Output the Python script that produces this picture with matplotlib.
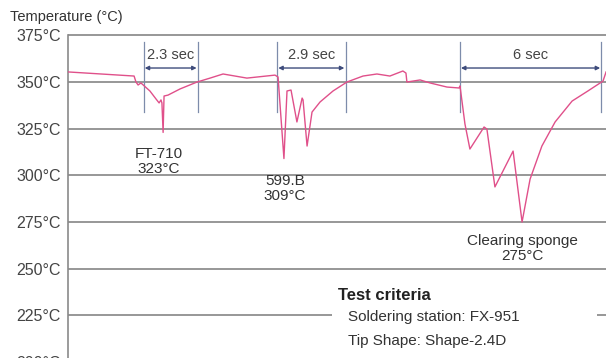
import numpy as np
import matplotlib.pyplot as plt
from matplotlib.patches import Rectangle

plt.rcParams['font.family'] = ['Liberation Sans', 'DejaVu Sans']

# Tip temperature trace: time [s], temperature [degC]
time_s = [0.00, 2.80, 2.88, 2.97, 3.09, 3.47, 3.73, 3.86, 3.94, 3.98, 4.03, 4.07,
          4.24, 4.75, 5.47, 6.02, 6.57, 7.58, 8.77, 8.90, 9.15, 9.28, 9.45, 9.70,
          9.92, 9.96, 10.13, 10.34, 10.68, 11.23, 11.82, 12.50, 13.09, 13.64,
          14.19, 14.32, 14.36, 14.92, 15.34, 16.06, 16.57, 16.61, 16.82, 17.03,
          17.63, 17.75, 18.09, 18.86, 19.24, 19.58, 20.08, 20.64, 21.36, 22.03,
          22.67, 22.80]
temp_c = [355.4, 353.2, 350.0, 348.4, 349.5, 345.2, 340.9, 338.8, 340.4, 338.8, 323.0, 342.5,
          343.0, 346.3, 350.0, 352.1, 354.3, 352.1, 353.7, 352.7, 309.0, 345.2, 345.7, 328.6,
          341.4, 340.4, 315.7, 333.9, 339.3, 345.2, 350.0, 353.2, 354.3, 353.2,
          355.9, 354.8, 350.0, 351.1, 349.5, 347.3, 346.8, 347.9, 327.5, 314.1,
          325.9, 324.8, 293.8, 313.0, 275.0, 298.0, 315.7, 328.6, 339.8, 345.2,
          350.5, 355.4]

# recovery intervals: start [s], length [s]
recover_start = [3.2, 8.86, 16.6]
recover_len = [2.3, 2.9, 6.0]
recover_labels = ["2.3 sec", "2.9 sec", "6 sec"]

# dip annotations
dip_names = ["FT-710", "599.B", "Clearing sponge"]
dip_temps = [323, 309, 275]
dip_label_t = [3.86, 9.2, 19.25]
dip_label_T = [315.2, 300.7, 268.6]

yticks = [375, 350, 325, 300, 275, 250, 225, 200]

fig = plt.figure(figsize=(6.06, 3.58), dpi=100)
ax = fig.add_axes([68 / 606, -0.0634, 23.0 * 23.6 / 606, 0.9751])
ax.set_xlim(0, 23.0)
ax.set_ylim(190, 377)

for s in ['top', 'right', 'bottom']:
    ax.spines[s].set_visible(False)
ax.spines['left'].set_color('#8a8a8a')
ax.spines['left'].set_linewidth(1.2)
ax.spines['left'].set_bounds(190, 375)

ax.set_xticks([])
ax.set_yticks(yticks)
ax.set_yticklabels([f"{v}°C" for v in yticks], fontsize=11.5, color='#444444')
ax.tick_params(axis='y', length=0, pad=5)
for v in yticks:
    ax.axhline(v, color='#8f8f8f', lw=1.3, zorder=1)

# white box holding the test criteria, interrupting the 225 line
ax.add_patch(Rectangle((11.19, 206), 11.23, 35, facecolor='white',
                       edgecolor='none', zorder=2))
ax.text(11.44, 235.9, "Test criteria", fontsize=12, fontweight='bold',
        color='#222222', va='center', ha='left', zorder=3)
ax.text(11.86, 224.1, "Soldering station: FX-951", fontsize=11,
        color='#333333', va='center', ha='left', zorder=3)
ax.text(11.86, 211.3, "Tip Shape: Shape-2.4D", fontsize=11,
        color='#333333', va='center', ha='left', zorder=3)

ax.plot(time_s, temp_c, color='#e0508a', lw=1.0, zorder=4)

for t0, dt, lab in zip(recover_start, recover_len, recover_labels):
    for tx in (t0, t0 + dt):
        ax.plot([tx, tx], [333.9, 371.4], color='#7d8cab', lw=0.9, zorder=3)
    ax.annotate("", xy=(t0 + dt - 0.05, 357.5), xytext=(t0 + 0.05, 357.5),
                arrowprops=dict(arrowstyle='<|-|>', color='#3e4c7c', lw=1.0,
                                mutation_scale=6, shrinkA=0, shrinkB=0),
                zorder=5)
    ax.text(t0 + dt / 2, 364.5, lab, fontsize=10.5, color='#444444',
            ha='center', va='center', zorder=5)

for name, temp, tx, ty in zip(dip_names, dip_temps, dip_label_t, dip_label_T):
    ax.text(tx, ty, f"{name}\n{temp}°C", fontsize=11, color='#333333',
            ha='center', va='top', linespacing=1.1, zorder=5)

fig.text(10 / 606, 1 - 17 / 358, "Temperature (°C)", fontsize=10.5,
         color='#333333', ha='left', va='center')

fig.savefig("out.png", dpi=100)
